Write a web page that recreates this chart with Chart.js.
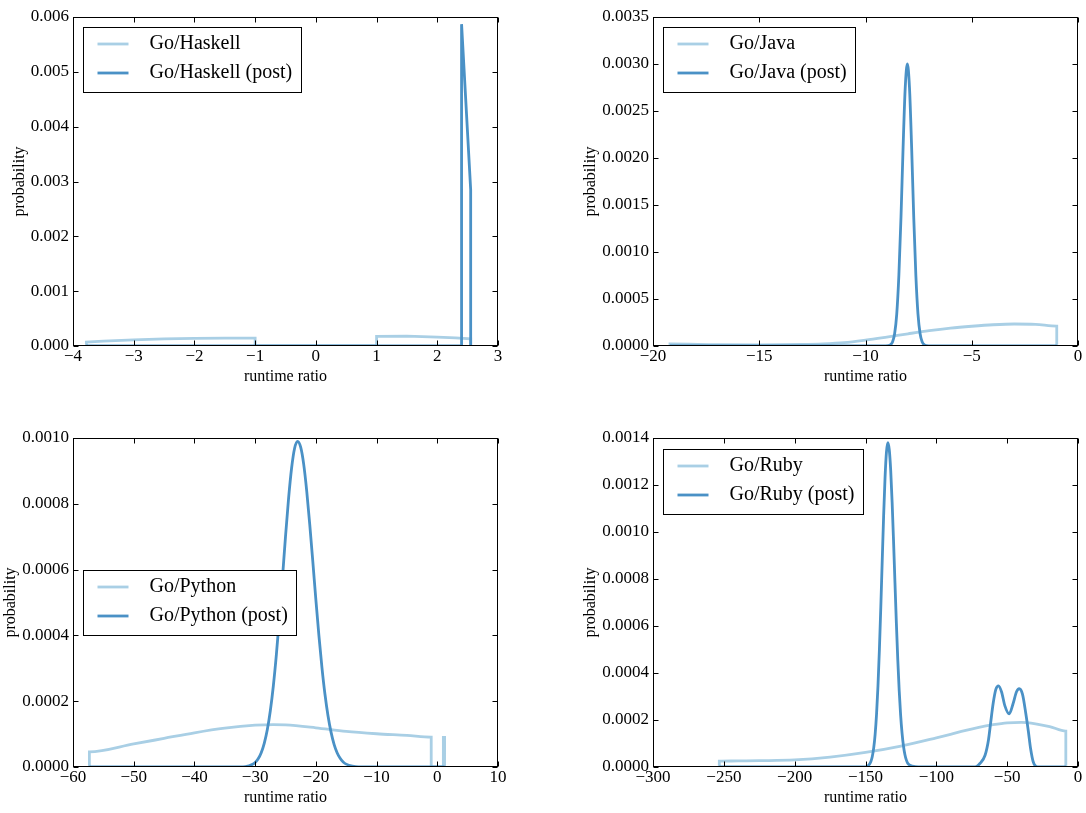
<!DOCTYPE html>
<html>
<head>
<meta charset="utf-8">
<script src="https://cdn.jsdelivr.net/npm/chart.js@4.4.1/dist/chart.umd.min.js"></script>
<style>
html,body{margin:0;padding:0;background:#fff;}
body{width:1086px;height:813px;position:relative;overflow:hidden;}
canvas{position:absolute;display:block;}
</style>
</head>
<body>
<canvas id="pHaskell" width="543" height="406" style="left:0px;top:0px;width:543px;height:406px"></canvas>
<canvas id="pJava" width="543" height="406" style="left:543px;top:0px;width:543px;height:406px"></canvas>
<canvas id="pPython" width="543" height="407" style="left:0px;top:406px;width:543px;height:407px"></canvas>
<canvas id="pRuby" width="543" height="407" style="left:543px;top:406px;width:543px;height:407px"></canvas>
<script>
// ---------------- DATA ----------------
const xAxisLabel = 'runtime ratio';
const yAxisLabel = 'probability';

// Go/Haskell
const haskellLabels = ['Go/Haskell', 'Go/Haskell (post)'];
const haskellX     = [-3.78, -3.78, -3.5, -3.0, -2.5, -2.0, -1.5, -1.0, -1.0, 1.0, 1.0, 1.5, 2.0, 2.3, 2.55, 2.55];
const haskellY     = [0, 0.00007, 0.00009, 0.00011, 0.00013, 0.00014, 0.000145, 0.000145, 0, 0, 0.000176, 0.00018, 0.000162, 0.00015, 0.00013, 0];
const haskellPostX = [-3.78, 2.40, 2.40, 2.55, 2.55];
const haskellPostY = [0, 0, 0.00587, 0.00285, 0];
const haskellXTicks = [-4, -3, -2, -1, 0, 1, 2, 3];
const haskellYTicks = [0, 0.001, 0.002, 0.003, 0.004, 0.005, 0.006];

// Go/Java
const javaLabels = ['Go/Java', 'Go/Java (post)'];
const javaX     = [-19.2, -19.2, -17, -15, -13, -12, -11, -10, -9, -8, -7, -6, -5, -4, -3, -2, -1.0, -1.0];
const javaY     = [0, 0.000022, 0.000015, 0.000012, 0.000016, 0.000022, 0.000035, 0.000062, 0.000095, 0.00013, 0.000163, 0.00019, 0.00021, 0.000226, 0.000234, 0.00023, 0.000212, 0];
const javaPostX = [-19.2, -9.2, -8.93, -8.83, -8.73, -8.63, -8.53, -8.43, -8.33, -8.23, -8.13, -8.03, -7.93, -7.83, -7.73, -7.63, -7.53, -7.43, -7.33, -7.23, -7.13, -6.9, -1.0];
const javaPostY = [0, 0, 0.000003, 0.000012, 0.000043, 0.00013, 0.00034, 0.00075, 0.00137, 0.00212, 0.00275, 0.0030, 0.00275, 0.00212, 0.00137, 0.00075, 0.00034, 0.00013, 0.000043, 0.000012, 0.000003, 0, 0];
const javaXTicks = [-20, -15, -10, -5, 0];
const javaYTicks = [0, 0.0005, 0.001, 0.0015, 0.002, 0.0025, 0.003, 0.0035];

// Go/Python
const pythonLabels = ['Go/Python', 'Go/Python (post)'];
const pythonX     = [-57.3, -57.3, -50, -45, -40, -35, -30, -27, -25, -20, -15, -10, -5, -1, -1, 1, 1, 1.2, 1.2];
const pythonY     = [0, 0.000046, 0.00007, 0.000087, 0.000104, 0.000118, 0.000127, 0.000129, 0.000128, 0.000119, 0.000108, 0.000101, 0.000096, 0.000091, 0, 0, 0.00009, 0.00009, 0];
const pythonPostX = [-57.3, -32, -31, -30.5, -30, -29.5, -29, -28.5, -28, -27.5, -27, -26.5, -26, -25.5, -25, -24.5, -24, -23.5, -23,
                     -22.5, -22, -21.5, -21, -20.5, -20, -19.5, -19, -18.5, -18, -17.5, -17, -16.5, -16, -15.5, -15, -14, -13, 1.2];
const pythonPostY = [0, 0, 0.0000038, 0.0000075, 0.000014, 0.000025, 0.0000435, 0.000072, 0.000113, 0.000171, 0.000247, 0.000342, 0.000453, 0.000575, 0.0007, 0.000815, 0.000908, 0.000969, 0.00099,
                     0.000972, 0.00092, 0.000838, 0.000736, 0.000624, 0.000509, 0.0004, 0.000303, 0.000221, 0.000156, 0.000106, 0.000069, 0.0000435, 0.0000264, 0.0000155, 0.0000087, 0.0000025, 0, 0];
const pythonXTicks = [-60, -50, -40, -30, -20, -10, 0, 10];
const pythonYTicks = [0, 0.0002, 0.0004, 0.0006, 0.0008, 0.001];

// Go/Ruby
const rubyLabels = ['Go/Ruby', 'Go/Ruby (post)'];
const rubyX     = [-253.2, -253.2, -240, -225, -200, -175, -150, -125, -100, -90, -80, -70, -60, -50, -40, -30, -20, -8.6, -8.6];
const rubyY     = [0, 0.000025, 0.000026, 0.000027, 0.00003, 0.000042, 0.000062, 0.000089, 0.000124, 0.000139, 0.000155, 0.000169, 0.00018, 0.000188, 0.00019, 0.000184, 0.000172, 0.000153, 0];
const rubyPostX = [-253.2, -150.2, -148.2, -147.2, -146.2, -145.2, -144.2, -143.2, -142.2, -141.2, -140.2, -139.2, -138.2, -137.2, -136.2, -135.2, -134.2,
                   -133.2, -132.2, -131.2, -130.2, -129.2, -128.2, -127.2, -126.2, -125.2, -124.2, -123.2, -122.2, -121.2, -120.2, -118.2, -115, -111,
                   -75, -72.6, -69.1, -65.6, -63.2, -61.7, -59.9, -58.0, -56.1, -54.0, -51.6, -48.6, -45.8, -43.4, -41.5, -39.2, -36.9, -35, -33.5, -31.5, -28.5, -8.6];
const rubyPostY = [0, 0, 0.0000053, 0.0000115, 0.0000233, 0.0000447, 0.0000812, 0.000139, 0.000225, 0.000344, 0.000498, 0.00068, 0.000877, 0.001069, 0.001232, 0.001341, 0.00138,
                   0.001349, 0.001261, 0.001126, 0.000961, 0.000784, 0.000611, 0.000455, 0.000324, 0.000221, 0.000144, 0.0000892, 0.000053, 0.0000301, 0.0000163, 0.000006, 0.000002, 0,
                   0, 0, 0.000016, 0.00005, 0.000115, 0.000186, 0.00027, 0.00033, 0.000345, 0.00032, 0.00026, 0.000226, 0.00027, 0.00032, 0.000333, 0.00031, 0.00023, 0.00015, 0.00008, 0.00002, 0, 0];
const rubyXTicks = [-300, -250, -200, -150, -100, -50, 0];
const rubyYTicks = [0, 0.0002, 0.0004, 0.0006, 0.0008, 0.001, 0.0012, 0.0014];

// ---------------- STYLE / RENDER ----------------
const FONT = '"Liberation Serif", "Times New Roman", Times, serif';
const LIGHT = '#a9cfe5';
const DARK = '#4a91c6';

function fmtX(v) { return v < 0 ? '\u2212' + String(Math.abs(v)) : String(v); }
function pts(xs, ys) { return xs.map((x, i) => ({ x: x, y: ys[i] })); }

const frameTicks = {
  id: 'frameTicks',
  afterDraw(chart) {
    const ctx = chart.ctx, a = chart.chartArea, xs = chart.scales.x, ys = chart.scales.y;
    const L = Math.round(a.left) + 0.5, R = Math.round(a.right) - 0.5;
    const T = Math.round(a.top) + 0.5, B = Math.round(a.bottom) - 0.5;
    ctx.save();
    ctx.strokeStyle = '#000';
    ctx.lineWidth = 1;
    ctx.beginPath();
    xs.ticks.forEach(t => {
      const p = Math.round(xs.getPixelForValue(t.value)) + 0.5;
      ctx.moveTo(p, B); ctx.lineTo(p, B - 5);
      ctx.moveTo(p, T); ctx.lineTo(p, T + 5);
    });
    ys.ticks.forEach(t => {
      const p = Math.round(ys.getPixelForValue(t.value)) + 0.5;
      ctx.moveTo(L, p); ctx.lineTo(L + 5, p);
      ctx.moveTo(R, p); ctx.lineTo(R - 5, p);
    });
    ctx.stroke();
    ctx.strokeRect(L, T, R - L, B - T);
    ctx.restore();
  }
};

const boxLegend = {
  id: 'boxLegend',
  afterDatasetsDraw(chart, args, opts) {
    const ctx = chart.ctx, a = chart.chartArea;
    const x0 = Math.round(a.left + opts.dx) + 0.5, y0 = Math.round(a.top + opts.dy) + 0.5;
    ctx.save();
    ctx.font = '20px ' + FONT;
    const ds = chart.data.datasets;
    let maxW = 0;
    ds.forEach(d => { maxW = Math.max(maxW, ctx.measureText(d.label).width); });
    const w = Math.round(66 + maxW + 9), h = 65;
    ctx.fillStyle = '#fff';
    ctx.fillRect(x0, y0, w, h);
    ctx.strokeStyle = '#000';
    ctx.lineWidth = 1;
    ctx.strokeRect(x0, y0, w, h);
    ds.forEach((d, i) => {
      const yy = Math.round(y0 + 16 + i * 29);
      ctx.strokeStyle = d.borderColor;
      ctx.lineWidth = d.borderWidth;
      ctx.beginPath();
      ctx.moveTo(x0 + 14, yy);
      ctx.lineTo(x0 + 45, yy);
      ctx.stroke();
      ctx.fillStyle = '#000';
      ctx.textBaseline = 'middle';
      ctx.textAlign = 'left';
      ctx.fillText(d.label, x0 + 66, yy);
    });
    ctx.restore();
  }
};

function makePanel(id, s) {
  const mode = s.straight ? 'default' : 'monotone';
  return new Chart(document.getElementById(id), {
    type: 'line',
    data: {
      datasets: [
        { label: s.labels[0], data: pts(s.lx, s.ly), borderColor: LIGHT, borderWidth: 2.8,
          pointRadius: 0, fill: false, tension: 0, cubicInterpolationMode: mode, order: 1, clip: 0 },
        { label: s.labels[1], data: pts(s.px, s.py), borderColor: DARK, borderWidth: 2.8,
          pointRadius: 0, fill: false, tension: 0, cubicInterpolationMode: mode, order: 0, clip: 0 }
      ]
    },
    options: {
      responsive: false,
      animation: false,
      events: [],
      layout: { padding: { left: 0, top: s.padTop, right: s.padRight, bottom: 0 } },
      plugins: {
        legend: { display: false },
        tooltip: { enabled: false },
        boxLegend: { dx: s.legDx, dy: s.legDy }
      },
      scales: {
        x: {
          type: 'linear', position: 'bottom', min: s.xTicks[0], max: s.xTicks[s.xTicks.length - 1],
          afterBuildTicks: sc => { sc.ticks = s.xTicks.map(v => ({ value: v })); },
          afterFit: sc => { sc.height = s.xAxisH; },
          ticks: { callback: v => fmtX(v), color: '#000', padding: 0, autoSkip: false, maxRotation: 0, minRotation: 0,
                   font: { family: FONT, size: 17, lineHeight: 1.2 } },
          grid: { display: false, drawTicks: false },
          border: { display: false },
          title: { display: true, text: xAxisLabel, color: '#000', font: { family: FONT, size: 16, lineHeight: 1.2 },
                   padding: { top: 0, bottom: s.xTitlePad } }
        },
        y: {
          type: 'linear', position: 'left', min: 0, max: s.yTicks[s.yTicks.length - 1],
          afterBuildTicks: sc => { sc.ticks = s.yTicks.map(v => ({ value: v })); },
          afterFit: sc => { sc.width = s.yAxisW; },
          ticks: { callback: v => Number(v).toFixed(s.yDec), color: '#000', padding: 4, autoSkip: false,
                   font: { family: FONT, size: 17, lineHeight: 1.2 } },
          grid: { display: false, drawTicks: false },
          border: { display: false },
          title: { display: true, text: yAxisLabel, color: '#000', font: { family: FONT, size: 16, lineHeight: 1.2 },
                   padding: { top: s.yTitlePad, bottom: 0 } }
        }
      }
    },
    plugins: [boxLegend, frameTicks]
  });
}

makePanel('pHaskell', {
  labels: haskellLabels, lx: haskellX, ly: haskellY, px: haskellPostX, py: haskellPostY,
  xTicks: haskellXTicks, yTicks: haskellYTicks, yDec: 3, straight: true,
  yAxisW: 73, xAxisH: 60, padTop: 17, padRight: 45, xTitlePad: 19.8, yTitlePad: 10,
  legDx: 10, legDy: 10
});
makePanel('pJava', {
  labels: javaLabels, lx: javaX, ly: javaY, px: javaPostX, py: javaPostY,
  xTicks: javaXTicks, yTicks: javaYTicks, yDec: 4,
  yAxisW: 110, xAxisH: 60, padTop: 17, padRight: 8, xTitlePad: 19.8, yTitlePad: 38.4,
  legDx: 10, legDy: 10
});
makePanel('pPython', {
  labels: pythonLabels, lx: pythonX, ly: pythonY, px: pythonPostX, py: pythonPostY,
  xTicks: pythonXTicks, yTicks: pythonYTicks, yDec: 4,
  yAxisW: 73, xAxisH: 46, padTop: 32, padRight: 45, xTitlePad: 6.1, yTitlePad: 1.4,
  legDx: 10, legDy: 132
});
makePanel('pRuby', {
  labels: rubyLabels, lx: rubyX, ly: rubyY, px: rubyPostX, py: rubyPostY,
  xTicks: rubyXTicks, yTicks: rubyYTicks, yDec: 4,
  yAxisW: 110, xAxisH: 46, padTop: 32, padRight: 8, xTitlePad: 6.1, yTitlePad: 38.4,
  legDx: 10, legDy: 11
});
</script>
</body>
</html>
